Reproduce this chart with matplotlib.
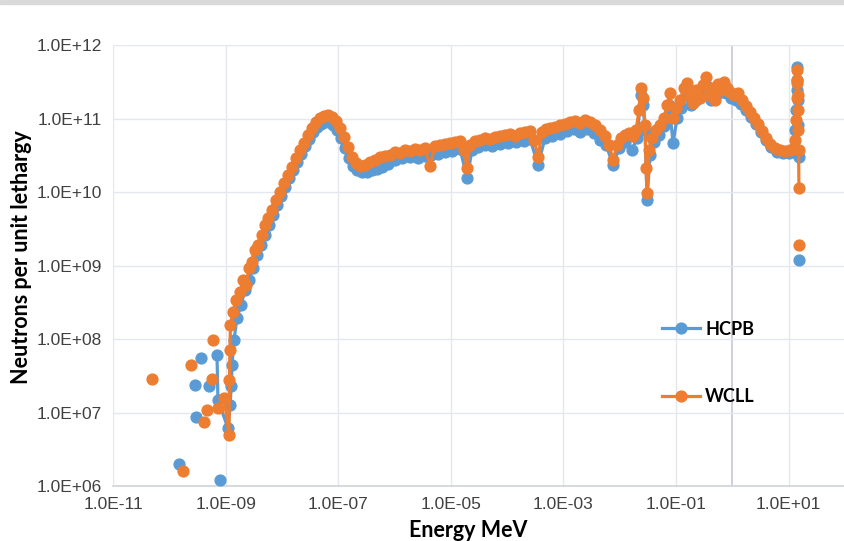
import numpy as np
import matplotlib
matplotlib.use('Agg')
import matplotlib.pyplot as plt
from matplotlib.patches import Rectangle

nan = np.nan

# HCPB spectrum (MeV, neutrons per unit lethargy), nan = gap in the line
hcpb_energy = [
    1.49e-10, nan, 2.86e-10, nan, 2.98e-10, nan, 3.65e-10, nan, 5.07e-10, nan, 7.9e-10, nan,
    7.03e-10, 7.3e-10, 1.10e-9, 1.20e-9, 1.26e-9, 1.30e-9, 1.41e-9, 1.59e-9, 1.88e-9, 2.21e-9,
    2.61e-9, 3.07e-9, 3.61e-9, 4.26e-9, 5.01e-9, 5.90e-9, 6.95e-9, 8.18e-9, 9.64e-9,
    1.14e-8, 1.34e-8, 1.57e-8, 1.85e-8, 2.18e-8, 2.57e-8, 3.03e-8, 3.56e-8, 4.20e-8, 4.94e-8,
    5.83e-8, 6.87e-8, 8.09e-8, 9.53e-8,
    1.12e-7, 1.32e-7, 1.56e-7, 1.83e-7, 2.16e-7, 2.65e-7, 3.25e-7, 3.98e-7, 4.89e-7, 6.00e-7, 7.67e-7,
    1.02e-6, 1.36e-6, 1.88e-6, 2.61e-6, 3.48e-6, 4.45e-6, 5.93e-6, 7.89e-6,
    1.05e-5, 1.46e-5, 1.94e-5, 2.38e-5, 3.04e-5, 4.05e-5, 5.40e-5, 7.48e-5,
    1.04e-4, 1.44e-4, 2.00e-4, 2.55e-4, 3.54e-4, 4.71e-4, 6.29e-4, 8.71e-4,
    1.16e-3, 1.54e-3, 1.97e-3, 2.62e-3, 3.50e-3, 4.47e-3, 5.72e-3, 7.60e-3, 9.73e-3,
    1.24e-2, 1.65e-2, 2.03e-2, 2.39e-2, 2.59e-2, 2.81e-2, 3.05e-2, 3.45e-2, 4.06e-2, 4.99e-2,
    6.12e-2, 7.52e-2, 8.85e-2,
    0.104, 0.123, 0.151, 0.185, 0.226, 0.278, 0.341, 0.419, 0.513, 0.630, 0.773, 0.948,
    1.16, 1.43, 1.75, 2.15, 2.64, 3.24, 3.97, 4.86, 6.22, 7.96,
    10.2, 12.5, 13.2, 13.6, 13.9, 14.1, 14.3, 14.5, 14.7, 15.0, nan, 15.4]
hcpb_flux = [
    2.0e6, nan, 2.4e7, nan, 8.7e6, nan, 5.5e7, nan, 2.3e7, nan, 1.2e6, nan,
    6.1e7, 1.5e7, 6.1e6, 1.27e7, 2.3e7, 4.4e7, 9.7e7, 1.93e8, 2.90e8, 4.64e8,
    6.35e8, 9.25e8, 1.39e9, 1.90e9, 2.60e9, 3.56e9, 4.87e9, 6.65e9, 8.8e9,
    1.17e10, 1.55e10, 1.99e10, 2.56e10, 3.29e10, 4.23e10, 5.26e10, 6.55e10, 7.66e10, 8.42e10,
    8.96e10, 8.96e10, 8.17e10, 6.98e10,
    5.43e10, 3.97e10, 2.90e10, 2.26e10, 1.99e10, 1.87e10, 1.87e10, 1.99e10, 2.06e10, 2.19e10, 2.40e10,
    2.72e10, 2.90e10, 2.99e10, 2.90e10, 3.09e10, 3.19e10, 3.29e10, 3.50e10,
    3.61e10, 3.85e10, 1.55e10, 3.73e10, 4.09e10, 4.36e10, 4.23e10, 4.50e10,
    4.64e10, 4.79e10, 4.94e10, 5.26e10, 2.33e10, 5.43e10, 5.78e10, 6.15e10,
    6.76e10, 7.20e10, 6.55e10, 7.20e10, 6.35e10, 5.10e10, 4.36e10, 2.33e10, 3.97e10,
    4.79e10, 3.73e10, 5.43e10, 2.09e11, 1.53e11, 6.98e10, 7.8e9, 3.19e10, 4.79e10, 5.97e10,
    7.91e10, 1.53e11, 4.64e10,
    1.02e11, 1.39e11, 2.09e11, 1.53e11, 1.79e11, 2.29e11, 2.86e11, 1.79e11, 2.09e11, 2.29e11, 2.22e11, 1.90e11,
    1.79e11, 1.58e11, 1.31e11, 1.05e11, 8.42e10, 6.55e10, 5.10e10, 4.09e10, 3.50e10, 3.39e10,
    3.39e10, 3.50e10, 6.98e10, 1.31e11, 2.44e11, 5.0e11, 3.34e11, 1.79e11, 8.17e10, 2.99e10, nan, 1.2e9]

# WCLL spectrum
wcll_energy = [
    4.9e-11, nan, 1.75e-10, nan, 2.4e-10, nan, 4.1e-10, nan, 5.7e-10, nan, 5.9e-10, nan,
    4.7e-10, 7.3e-10, 9.4e-10, 1.15e-9, 1.17e-9, 1.19e-9, 1.22e-9, 1.35e-9, 1.53e-9, 1.80e-9,
    2.04e-9, 2.30e-9, 2.61e-9, 2.94e-9, 3.33e-9, 3.76e-9, 4.44e-9, 5.01e-9, 5.66e-9, 6.67e-9,
    7.85e-9, 9.25e-9,
    1.09e-8, 1.28e-8, 1.51e-8, 1.78e-8, 2.09e-8, 2.47e-8, 2.91e-8, 3.43e-8, 4.04e-8, 4.75e-8,
    5.60e-8, 6.59e-8, 7.76e-8, 9.14e-8,
    1.08e-7, 1.27e-7, 1.49e-7, 1.76e-7, 2.07e-7, 2.44e-7, 2.99e-7, 3.67e-7, 4.51e-7, 5.52e-7,
    6.78e-7, 8.32e-7,
    1.02e-6, 1.25e-6, 1.54e-6, 1.88e-6, 2.31e-6, 2.84e-6, 3.48e-6, 4.28e-6, 5.24e-6, 6.43e-6,
    7.89e-6, 9.68e-6,
    1.19e-5, 1.46e-5, 1.71e-5, 1.94e-5, 2.19e-5, 2.69e-5, 3.30e-5, 4.05e-5, 4.97e-5, 6.10e-5,
    7.48e-5, 9.18e-5,
    1.13e-4, 1.38e-4, 1.69e-4, 2.08e-4, 2.55e-4, 3.01e-4, 3.54e-4, 4.17e-4, 4.91e-4, 5.78e-4,
    7.10e-4, 8.71e-4,
    1.07e-3, 1.31e-3, 1.61e-3, 1.97e-3, 2.42e-3, 2.96e-3, 3.64e-3, 4.47e-3, 5.48e-3, 6.46e-3,
    7.60e-3, 8.95e-3,
    1.05e-2, 1.24e-2, 1.46e-2, 1.72e-2, 1.95e-2, 2.20e-2, 2.39e-2, 2.59e-2, 2.81e-2, 2.93e-2,
    3.05e-2, 3.31e-2, 3.75e-2, 4.42e-2, 5.20e-2, 6.12e-2, 6.92e-2, 7.82e-2, 8.85e-2,
    0.100, 0.118, 0.139, 0.157, 0.177, 0.200, 0.226, 0.267, 0.302, 0.341, 0.385, 0.436,
    0.493, 0.557, 0.630, 0.713, 0.805, 0.910,
    1.07, 1.26, 1.49, 1.75, 2.06, 2.43, 2.86, 3.37, 3.97, 4.68, 5.73, 7.03, 8.63,
    10.6, 12.5, 13.2, 13.6, 13.8, 14.0, 14.1, 14.2, 14.4, 14.6, 14.8, 15.0, 15.2, nan, 15.4]
wcll_flux = [
    2.9e7, nan, 1.6e6, nan, 4.4e7, nan, 7.4e6, nan, 2.9e7, nan, 9.7e7, nan,
    1.08e7, 1.15e7, 1.57e7, 4.9e6, 2.77e7, 7.1e7, 1.55e8, 2.33e8, 3.39e8, 4.36e8,
    6.35e8, 5.43e8, 9.25e8, 1.12e9, 1.63e9, 1.90e9, 2.60e9, 3.56e9, 4.43e9, 5.69e9,
    7.8e9, 1.0e10,
    1.33e10, 1.70e10, 2.19e10, 2.90e10, 3.73e10, 4.64e10, 5.97e10, 7.43e10, 8.96e10, 1.02e11,
    1.08e11, 1.12e11, 1.05e11, 9.25e10,
    7.43e10, 5.60e10, 4.09e10, 2.99e10, 2.48e10, 2.26e10, 2.33e10, 2.56e10, 2.72e10, 2.99e10,
    3.09e10, 3.19e10,
    3.50e10, 3.39e10, 3.73e10, 3.61e10, 3.85e10, 3.73e10, 3.97e10, 2.26e10, 4.23e10, 4.36e10,
    4.50e10, 4.64e10,
    4.79e10, 4.94e10, 3.73e10, 2.12e10, 4.36e10, 4.94e10, 5.10e10, 5.43e10, 5.26e10, 5.60e10,
    5.78e10, 5.97e10,
    6.15e10, 5.78e10, 6.35e10, 6.55e10, 6.76e10, 5.10e10, 2.99e10, 6.55e10, 7.20e10, 7.43e10,
    7.66e10, 8.17e10,
    8.42e10, 8.96e10, 9.25e10, 8.69e10, 9.55e10, 8.96e10, 8.17e10, 6.98e10, 5.78e10, 4.36e10,
    2.72e10, 4.36e10,
    5.43e10, 5.97e10, 6.35e10, 5.78e10, 6.98e10, 1.31e11, 2.60e11, 1.90e11, 8.17e10, 2.12e10,
    9.7e9, 3.73e10, 5.43e10, 6.98e10, 8.17e10, 1.02e11, 1.53e11, 2.22e11, 1.02e11,
    1.39e11, 1.79e11, 2.60e11, 3.04e11, 2.09e11, 1.63e11, 2.44e11, 1.90e11, 2.86e11, 3.67e11,
    2.09e11, 2.60e11, 1.79e11, 2.95e11, 2.44e11, 3.14e11, 2.60e11, 2.29e11,
    2.09e11, 2.22e11, 1.79e11, 1.48e11, 1.23e11, 1.02e11, 8.42e10, 6.76e10, 5.43e10, 4.50e10,
    3.97e10, 3.73e10, 3.61e10,
    3.73e10, 3.97e10, 5.10e10, 9.55e10, 1.90e11, 3.04e11, 4.57e11, 3.34e11, 2.09e11, 1.31e11,
    6.98e10, 3.73e10, 1.13e10, nan, 1.90e9]

xticks = [1e-11, 1e-9, 1e-7, 1e-5, 1e-3, 1e-1, 1e1]
xtick_labels = ['1.0E-11', '1.0E-09', '1.0E-07', '1.0E-05', '1.0E-03', '1.0E-01', '1.0E+01']
yticks = [1e6, 1e7, 1e8, 1e9, 1e10, 1e11, 1e12]
ytick_labels = ['1.0E+06', '1.0E+07', '1.0E+08', '1.0E+09', '1.0E+10', '1.0E+11', '1.0E+12']

tick_font = ['Liberation Sans Narrow', 'Liberation Sans', 'DejaVu Sans']
label_font = ['Lato', 'DejaVu Sans']

fig = plt.figure(figsize=(8.45, 5.41), dpi=100)
fig.patches.append(Rectangle((0, 1 - 4 / 541), 1, 4 / 541, transform=fig.transFigure,
                             color='#d9d9d9', zorder=0))
ax = fig.add_axes([113 / 845, 55 / 541, 1 - 113 / 845, 441 / 541])

ax.plot(hcpb_energy, hcpb_flux, '-o', color='#5b9bd5', lw=2.3, ms=7.8, label='HCPB', zorder=3)
ax.plot(wcll_energy, wcll_flux, '-o', color='#ed7d31', lw=2.3, ms=7.8, label='WCLL', zorder=4)

ax.set_xscale('log')
ax.set_yscale('log')
ax.set_xlim(1e-11, 1e2)
ax.set_ylim(1e6, 1e12)
ax.set_xticks(xticks)
ax.set_xticklabels(xtick_labels, family=tick_font, fontsize=12.5, color='#404040')
ax.set_yticks(yticks)
ax.set_yticklabels(ytick_labels, family=tick_font, fontsize=12.5, color='#404040')
ax.minorticks_off()
ax.tick_params(length=0, pad=8)

ax.grid(True, color='#e4e7ee', lw=1.0, zorder=0)
ax.axvline(1.0, color='#c9cdd6', lw=1.3, zorder=1)
for s in ['top', 'right', 'left']:
    ax.spines[s].set_visible(False)
ax.spines['bottom'].set_color('#d0d3d8')
ax.spines['bottom'].set_linewidth(1.2)

ax.set_xlabel('Energy MeV', family=label_font, fontsize=15.5, fontweight='bold')
ax.xaxis.set_label_coords(0.485, -0.078)
ax.set_ylabel('Neutrons per unit lethargy', family=label_font, fontsize=15.5, fontweight='bold')
ax.yaxis.set_label_coords(-0.11, 0.52)

ax.legend(loc='upper left', bbox_to_anchor=(0.75, 0.375), frameon=False,
          prop={'family': label_font, 'size': 13, 'weight': 'bold'},
          labelspacing=2.8, handlelength=2.1, handletextpad=0.3,
          borderpad=0, borderaxespad=0)

fig.savefig('out.png', dpi=100)
